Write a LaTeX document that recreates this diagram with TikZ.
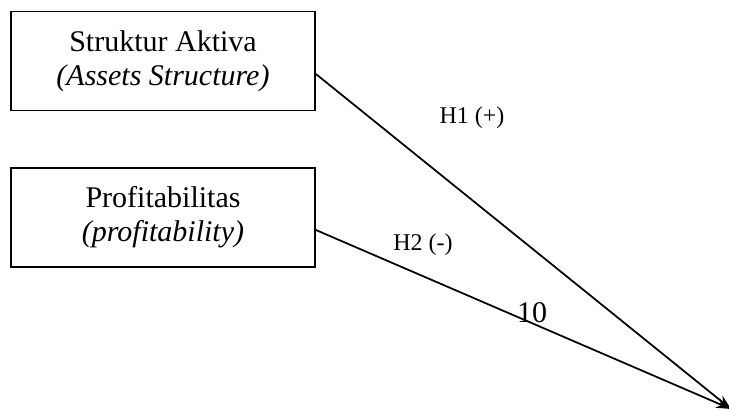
\documentclass[tikz,border=0pt]{standalone}
\usepackage{fontspec}
\setmainfont{Liberation Serif}
\usetikzlibrary{arrows.meta}

\tikzset{
    varbox/.style={draw, line width=0.7pt, minimum width=121.6pt, minimum height=39.6pt,
        align=center, inner sep=0pt, font=\fontsize{12}{13.6}\selectfont},
    hyplabel/.style={inner sep=0pt, font=\fontsize{9.6}{11}\selectfont},
    linkarrow/.style={draw, line width=0.7pt, -{Stealth[length=6pt, width=4pt]}}
}

\begin{document}
\begin{tikzpicture}[x=0.4pt, y=-0.4pt]
    \useasboundingbox (0, 0) rectangle (729, 410);

    \node[varbox] (sa) at (163, 61) {Struktur Aktiva\\\textit{(Assets Structure)}};
    \node[varbox] (pr) at (163, 217.5) {Profitabilitas\\\textit{(profitability)}};
    \coordinate (tgt) at (731, 409);

    \draw[linkarrow] ([yshift=-5.2pt]sa.east) -- (tgt);
    \draw[linkarrow] ([yshift=-5pt]pr.east) -- (tgt);

    \node[hyplabel] (h1) at (472, 118) {H1 (+)};
    \node[hyplabel] (h2) at (423, 245) {H2 (-)};
    \node[inner sep=0pt, font=\fontsize{12}{13}\selectfont] (pg) at (532, 313) {10};
\end{tikzpicture}
\end{document}
